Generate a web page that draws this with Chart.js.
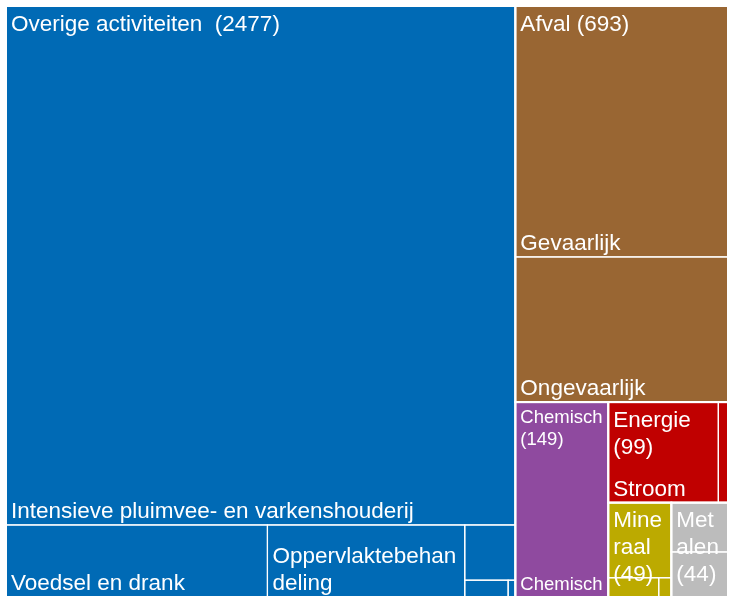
<!DOCTYPE html>
<html>
<head>
<meta charset="utf-8">
<script src="https://cdn.jsdelivr.net/npm/chart.js@4.4.1/dist/chart.umd.min.js"></script>
<style>
  html, body { margin: 0; padding: 0; background: #fff; }
  #wrap { width: 735px; height: 604px; position: relative; }
</style>
</head>
<body>
<div id="wrap"><canvas id="myChart"></canvas></div>
<script>
// Hoofdcategorieën en totalen
const categories = ['Overige activiteiten ', 'Afval', 'Chemisch', 'Energie', 'Mineraal', 'Metalen'];
const totals = [2477, 693, 149, 99, 49, 44];
const colors = ['#006ab5', '#996633', '#8f4a9f', '#c00000', '#bcaa00', '#bcbcbc'];

// Subcategorieën per hoofdcategorie (lege naam = niet leesbaar in het origineel)
const subLabels = [
    ['Intensieve pluimvee- en varkenshouderij', 'Voedsel en drank', 'Oppervlaktebehandeling', '', '', ''],
    ['Gevaarlijk', 'Ongevaarlijk'],
    ['Chemisch'],
    ['Stroom', ''],
    ['', '', ''],
    ['', '']
];
const subValues = [
    [2175, 155, 117, 23, 6, 1],
    [439, 254],
    [149],
    [91, 8],
    [39, 8, 2],
    [23, 21]
];

const FONT = '"Liberation Sans", Arial, sans-serif';
const BASE_SIZE = 22.5;
// kleinere letter voor smalle vakken
const fontSizes = { 'Chemisch': 18.5 };

// Vakken opdelen: steeds één item afsnijden langs de langste zijde
function slice(chart, values, r) {
    const xs = chart.scales.x, ys = chart.scales.y;
    let { x0, y0, x1, y1 } = r;
    let rest = values.reduce((a, b) => a + b, 0);
    const out = [];
    values.forEach((v, i) => {
        if (i === values.length - 1) { out.push({ x0, y0, x1, y1 }); return; }
        const f = v / rest;
        const pw = xs.getPixelForValue(x1) - xs.getPixelForValue(x0);
        const ph = ys.getPixelForValue(y1) - ys.getPixelForValue(y0);
        if (pw >= ph) {
            const xm = x0 + (x1 - x0) * f;
            out.push({ x0, y0, x1: xm, y1 });
            x0 = xm;
        } else {
            const ym = y0 + (y1 - y0) * f;
            out.push({ x0, y0, x1, y1: ym });
            y0 = ym;
        }
        rest -= v;
    });
    return out;
}

function toPx(chart, r) {
    const xs = chart.scales.x, ys = chart.scales.y;
    const x = xs.getPixelForValue(r.x0), y = ys.getPixelForValue(r.y0);
    return { x, y, w: xs.getPixelForValue(r.x1) - x, h: ys.getPixelForValue(r.y1) - y };
}

// Tekst afbreken op woorden, te lange woorden per letter
function wrap(ctx, text, avail) {
    const tokens = text.match(/\S+\s*/g) || [];
    const lines = [];
    let line = '';
    tokens.forEach(tok => {
        const cand = line + tok;
        if (ctx.measureText(cand.trimEnd()).width <= avail) { line = cand; return; }
        if (line.trim()) lines.push(line.trimEnd());
        line = '';
        let word = tok;
        while (ctx.measureText(word.trimEnd()).width > avail && word.length > 1) {
            let k = word.length - 1;
            while (k > 1 && ctx.measureText(word.slice(0, k)).width > avail) k--;
            lines.push(word.slice(0, k));
            word = word.slice(k);
        }
        line = word;
    });
    if (line.trim()) lines.push(line.trimEnd());
    return lines;
}

const treemapPlugin = {
    id: 'treemap',
    afterDraw(chart) {
        const ctx = chart.ctx;
        const full = { x0: 0, y0: 0, x1: 1, y1: 1 };
        const parents = slice(chart, totals, full);
        ctx.save();

        // vlakken
        parents.forEach((r, i) => {
            const p = toPx(chart, r);
            ctx.fillStyle = colors[i];
            ctx.fillRect(p.x, p.y, p.w, p.h);
        });

        // subvakken en hun labels
        parents.forEach((r, i) => {
            const kids = slice(chart, subValues[i], r);
            kids.forEach((k, j) => {
                const p = toPx(chart, k);
                ctx.strokeStyle = '#ffffff';
                ctx.lineWidth = 1.2;
                ctx.strokeRect(p.x, p.y, p.w, p.h);
                const name = subLabels[i][j];
                if (!name) return;
                const fs = fontSizes[name] || BASE_SIZE;
                const lh = Math.round(fs * 1.19);
                ctx.font = fs + 'px ' + FONT;
                const lines = wrap(ctx, name, p.w - 9);
                if (p.h < lines.length * lh + 4 || p.w < 20) return;
                ctx.fillStyle = '#ffffff';
                ctx.textBaseline = 'alphabetic';
                lines.forEach((ln, n) => {
                    ctx.fillText(ln, p.x + 5, p.y + p.h - 7 - (lines.length - 1 - n) * lh);
                });
            });
        });

        // hoofdranden en hoofdlabels
        parents.forEach((r, i) => {
            const p = toPx(chart, r);
            ctx.strokeStyle = '#ffffff';
            ctx.lineWidth = 2;
            ctx.strokeRect(p.x, p.y, p.w, p.h);
            const name = categories[i].trim();
            const fs = fontSizes[name] || BASE_SIZE;
            const lh = Math.round(fs * 1.19);
            ctx.font = fs + 'px ' + FONT;
            const text = categories[i] + ' (' + totals[i] + ')';
            const lines = wrap(ctx, text, p.w - 9);
            ctx.fillStyle = '#ffffff';
            ctx.textBaseline = 'alphabetic';
            lines.forEach((ln, n) => {
                ctx.fillText(ln, p.x + 5, p.y + fs + 2 + n * lh);
            });
        });
        ctx.restore();
    }
};

const ctx = document.getElementById('myChart').getContext('2d');
const myChart = new Chart(ctx, {
    type: 'scatter',
    data: { datasets: [{ data: [] }] },
    options: {
        responsive: true,
        maintainAspectRatio: false,
        animation: false,
        layout: { padding: { left: 6, top: 6, right: 7, bottom: 7 } },
        scales: {
            x: { type: 'linear', min: 0, max: 1, display: false },
            y: { type: 'linear', min: 0, max: 1, reverse: true, display: false }
        },
        plugins: {
            legend: { display: false },
            tooltip: { enabled: false }
        }
    },
    plugins: [treemapPlugin]
});
</script>
</body>
</html>
